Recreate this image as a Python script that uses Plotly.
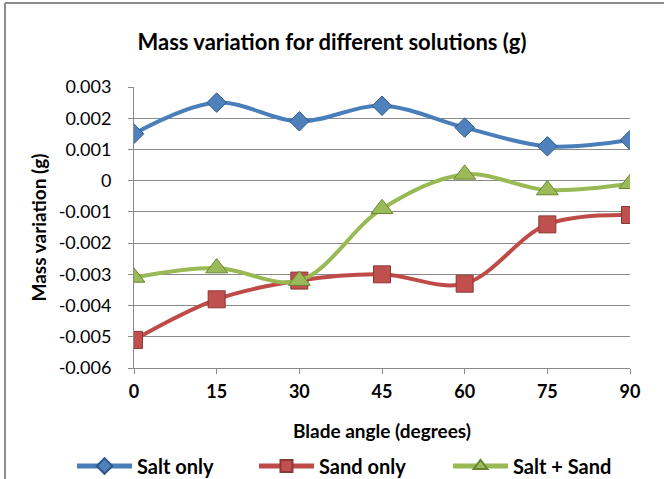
import plotly.graph_objects as go

angles = [0, 15, 30, 45, 60, 75, 90]
salt_only = [0.0015, 0.0025, 0.0019, 0.0024, 0.0017, 0.0011, 0.0013]
sand_only = [-0.0051, -0.0038, -0.0032, -0.0030, -0.0033, -0.0014, -0.0011]
salt_sand = [-0.0031, -0.0028, -0.0032, -0.0009, 0.0002, -0.0003, -0.0001]

y_tickvals = [0.003, 0.002, 0.001, 0, -0.001, -0.002, -0.003, -0.004, -0.005, -0.006]
y_ticktext = ["0.003", "0.002", "0.001", "0", "-0.001", "-0.002", "-0.003", "-0.004", "-0.005", "-0.006"]
x_ticktext = ["0", "15", "30", "45", "60", "75", "90"]

FONT = "Lato"
GRID = "#8a8a8a"

fig = go.Figure()
series = [
    ("Salt only", salt_only, "#4A7EBB", "#4F81BD", "#2F5788", "diamond", 15, "legend", 72),
    ("Sand only", sand_only, "#BE4B48", "#C0504D", "#8C3836", "square", 17, "legend2", 254),
    ("Salt + Sand", salt_sand, "#98B954", "#9BBB59", "#6A8532", "triangle-up", 19, "legend3", 448),
]
legend_layouts = {}
for name, vals, lc, mc, ec, sym, sz, leg, lx in series:
    fig.add_trace(go.Scatter(
        x=angles, y=vals, name=name, mode="lines+markers", legend=leg,
        line=dict(color=lc, width=4, shape="spline", smoothing=1.0),
        marker=dict(symbol=sym, size=sz, color=mc, line=dict(color=ec, width=1)),
    ))
    legend_layouts[leg] = dict(
        orientation="h", xref="container", yref="container",
        x=lx / 664, xanchor="left", y=1 - 466 / 479, yanchor="middle",
        font=dict(family=FONT, size=20, color="black", weight="bold"),
        itemwidth=55, itemsizing="constant", bgcolor="rgba(0,0,0,0)")

fig.update_layout(
    width=664, height=479,
    margin=dict(l=134, r=34, t=87, b=111, autoexpand=False),
    paper_bgcolor="white", plot_bgcolor="white",
    font=dict(family=FONT, size=18, color="black"),
    title=dict(text="<b>Mass variation for different solutions (g)</b>",
               x=0.5, xanchor="center", y=1 - 42 / 479, yanchor="middle",
               font=dict(family=FONT, size=22, color="black")),
    showlegend=True,
    **legend_layouts,
    xaxis=dict(range=[0, 90], tickvals=angles, ticktext=x_ticktext,
               showgrid=False, zeroline=False, showline=True, linecolor=GRID, linewidth=1,
               ticks="outside", ticklen=5, tickcolor=GRID, ticklabelstandoff=2,
               tickfont=dict(family=FONT, size=18, color="black", weight="bold"),
               title=dict(text="<b>Blade angle (degrees)</b>", standoff=24,
                          font=dict(family=FONT, size=19, color="black"))),
    yaxis=dict(range=[-0.006, 0.003], tickvals=y_tickvals, ticktext=y_ticktext,
               showgrid=True, gridcolor=GRID, gridwidth=1, zeroline=False,
               showline=True, linecolor=GRID, linewidth=1,
               ticks="outside", ticklen=5, tickcolor=GRID, ticklabelstandoff=13,
               tickfont=dict(family=FONT, size=18, color="black"),
               title=dict(text="<b>Mass variation (g)</b>", standoff=7,
                          font=dict(family=FONT, size=19, color="black"))),
    shapes=[
        dict(type="line", xref="paper", yref="paper", x0=(5 - 134) / 496, x1=1.2,
             y0=(368 - 3) / 281, y1=(368 - 3) / 281, line=dict(color="#8c8c8c", width=2)),
        dict(type="line", xref="paper", yref="paper", x0=(5 - 134) / 496, x1=(5 - 134) / 496,
             y0=(368 - 3) / 281, y1=-0.5, line=dict(color="#8c8c8c", width=2)),
    ],
)

fig.write_html("out.html")
